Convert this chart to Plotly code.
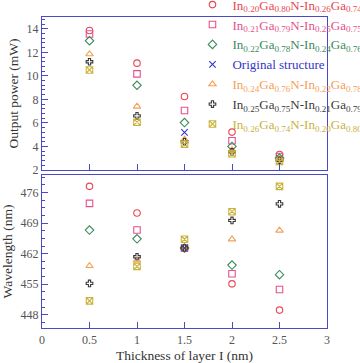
import plotly.graph_objects as go
from plotly.subplots import make_subplots

# ---- data ----
thickness = [0.5, 1.0, 1.5, 2.0, 2.5]

series_names = [
    "In<sub>0.20</sub>Ga<sub>0.80</sub>N-In<sub>0.26</sub>Ga<sub>0.74</sub>N",
    "In<sub>0.21</sub>Ga<sub>0.79</sub>N-In<sub>0.25</sub>Ga<sub>0.75</sub>N",
    "In<sub>0.22</sub>Ga<sub>0.78</sub>N-In<sub>0.24</sub>Ga<sub>0.76</sub>N",
    "Original structure",
    "In<sub>0.24</sub>Ga<sub>0.76</sub>N-In<sub>0.22</sub>Ga<sub>0.78</sub>N",
    "In<sub>0.25</sub>Ga<sub>0.75</sub>N-In<sub>0.21</sub>Ga<sub>0.79</sub>N",
    "In<sub>0.26</sub>Ga<sub>0.74</sub>N-In<sub>0.20</sub>Ga<sub>0.80</sub>N",
]

# output power (mW)
power_s1 = [13.85, 11.08, 8.25, 5.22, 3.32]
power_s2 = [13.55, 10.17, 7.05, 4.48, 3.15]
power_s3 = [12.98, 9.20, 6.03, 4.00, 3.02]
power_orig = [None, None, 5.20, None, None]
power_s5 = [11.85, 7.40, 4.60, 3.70, 2.92]
power_s6 = [11.20, 6.60, 4.40, 3.55, 2.82]
power_s7 = [10.50, 6.06, 4.20, 3.38, 2.72]

# wavelength (nm)
wl_s1 = [477.4, 471.3, 463.3, 455.1, 449.1]
wl_s2 = [473.5, 467.4, 463.3, 457.4, 453.8]
wl_s3 = [467.4, 465.4, 463.3, 459.4, 457.2]
wl_orig = [None, None, 463.3, None, None]
wl_s5 = [459.2, 460.5, 463.3, 465.3, 467.3]
wl_s6 = [455.2, 461.3, 463.3, 469.6, 473.4]
wl_s7 = [451.2, 459.1, 465.3, 471.6, 477.4]

power = [power_s1, power_s2, power_s3, power_orig, power_s5, power_s6, power_s7]
wavelength = [wl_s1, wl_s2, wl_s3, wl_orig, wl_s5, wl_s6, wl_s7]

colors = ["#e8464e", "#e4508c", "#3b8a5c", "#3535c8", "#f4a055", "#3a3a3a", "#c9b23c"]
symbols = ["circle-open", "square-open", "diamond-open", "x-thin-open",
           "triangle-up-open", "cross-open", "square-x-open"]
msizes = [6.5, 6.5, 6.5, 6.5, 6.5, 5.5, 6.5]

fig = make_subplots(rows=2, cols=1, shared_xaxes=False, vertical_spacing=0.016)

for i in range(7):
    name = f'<span style="color:{colors[i]}">{series_names[i]}</span>'
    mk = dict(symbol=symbols[i], color=colors[i], size=msizes[i],
              line=dict(color=colors[i], width=1.1))
    fig.add_trace(go.Scatter(x=thickness, y=power[i], mode="markers", name=name,
                             marker=mk, legendgroup=str(i)), row=1, col=1)
    fig.add_trace(go.Scatter(x=thickness, y=wavelength[i], mode="markers", name=name,
                             marker=mk, legendgroup=str(i), showlegend=False), row=2, col=1)

axcol = "#4a4ac8"
font = dict(family="Liberation Serif, Times New Roman, serif", color="#555555", size=12)

common_x = dict(range=[0, 3], dtick=0.5, showline=True, linecolor=axcol, linewidth=1.3,
                mirror=True, ticks="inside", ticklen=6, tickcolor=axcol, showgrid=False,
                zeroline=False, tickfont=font)
fig.update_xaxes(**common_x, showticklabels=False, row=1, col=1)
fig.update_xaxes(**common_x, row=2, col=1,
                 title=dict(text="Thickness of layer I (nm)",
                            font=dict(family=font["family"], size=13.5, color="#333333"),
                            standoff=7))

common_y = dict(showline=True, linecolor=axcol, linewidth=1.3, mirror=True,
                ticks="inside", ticklen=6, tickcolor=axcol, showgrid=False,
                zeroline=False, tickfont=font)
fig.update_yaxes(**common_y, range=[2, 15], tickvals=[2, 4, 6, 8, 10, 12, 14],
                 minor=dict(dtick=0.4, ticks="inside", ticklen=3, tickcolor=axcol),
                 title=dict(text="Output power (mW)",
                            font=dict(family=font["family"], size=13.5, color="#333333"),
                            standoff=4),
                 row=1, col=1)
fig.update_yaxes(**common_y, range=[445, 480], tickvals=[448, 455, 462, 469, 476],
                 minor=dict(tick0=448, dtick=1.75, ticks="inside", ticklen=3, tickcolor=axcol),
                 title=dict(text="Wavelength (nm)",
                            font=dict(family=font["family"], size=13.5, color="#333333"),
                            standoff=4),
                 row=2, col=1)

fig.update_layout(
    width=360, height=363,
    margin=dict(l=42, r=33, t=17, b=35, autoexpand=False),
    plot_bgcolor="white", paper_bgcolor="white",
    font=dict(family=font["family"], size=13),
    showlegend=True,
    legend=dict(x=0.528, y=1.088, xanchor="left", yanchor="top",
                bgcolor="rgba(0,0,0,0)", borderwidth=0,
                font=dict(family=font["family"], size=13),
                tracegroupgap=0, itemwidth=30),
)

fig.write_html("out.html")
